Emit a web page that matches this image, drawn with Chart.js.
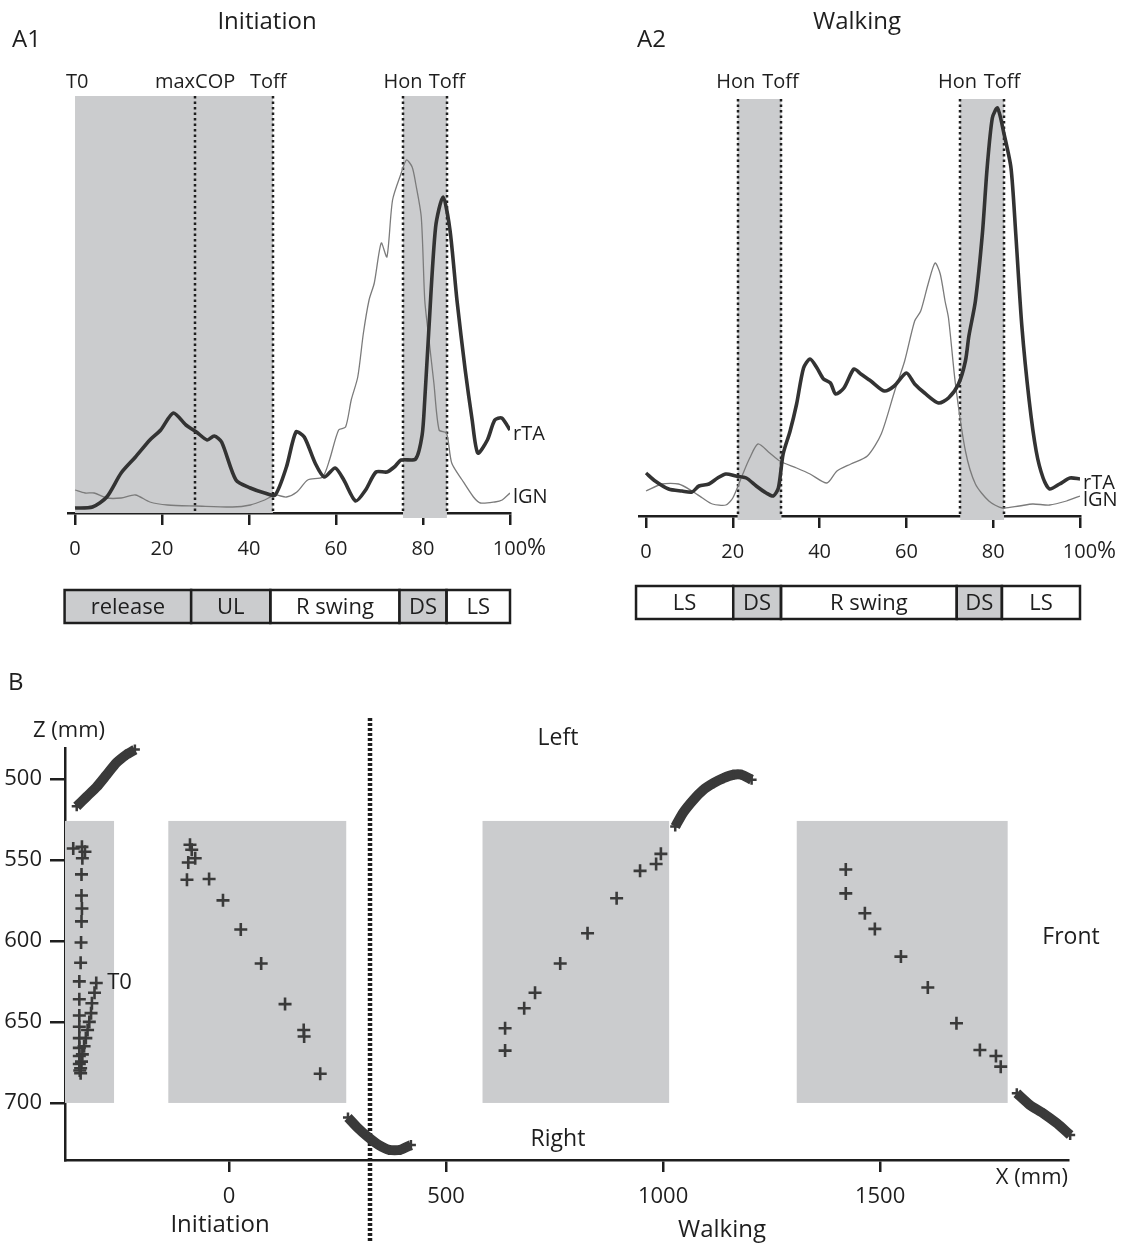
<!DOCTYPE html>
<html>
<head>
<meta charset="utf-8">
<title>Initiation / Walking</title>
<script src="https://cdn.jsdelivr.net/npm/chart.js@4.4.1/dist/chart.umd.min.js"></script>
<style>
  body { margin: 0; background: #fff; }
  #wrap { position: relative; width: 1127px; height: 1243px; overflow: hidden; }
  canvas { position: absolute; }
</style>
</head>
<body>
<div id="wrap">
  <canvas id="chartA1" width="563" height="640" style="left:0;top:0"></canvas>
  <canvas id="chartA2" width="564" height="640" style="left:563px;top:0"></canvas>
  <canvas id="chartB" width="1127" height="603" style="left:0;top:640px"></canvas>
</div>
<script>
// ---- A1 : initiation, % of cycle vs EMG (arbitrary units)
var a1_rTA_x = [0, 4, 7.3, 10.6, 13.9, 17.2, 19.7, 22.6, 25.5, 27.9, 30.4, 32, 33.7, 37, 40.3, 43.6, 46, 48.6, 50.8, 52.7, 55.2, 57.3, 59.8, 61.8, 64.5, 66.8, 69.2, 71.7, 73.4, 75, 78.3, 79.8, 80.4, 81.3, 82.9, 84.6, 86.2, 87.8, 89.7, 91.3, 92.6, 94.8, 96.5, 98.1, 100];
var a1_rTA_y = [5, 6, 16, 40, 56, 73, 83, 100, 88, 81, 73, 77, 71, 33, 25, 20, 18, 46, 81, 76, 50, 36, 45, 33, 12, 23, 41, 41, 46, 53, 54, 78, 113, 180, 286, 316, 283, 213, 143, 93, 60, 73, 93, 95, 83];
var a1_lGN_x = [0, 2.3, 4.4, 7.3, 10.6, 13.9, 17.2, 21.3, 27.9, 36.2, 40.3, 43.6, 46, 48.6, 51, 53.5, 56.9, 58.5, 60.6, 62.2, 63.5, 65, 66.3, 67.6, 68.8, 70.4, 71.7, 73, 75, 76.2, 77.5, 78.3, 79.6, 80.4, 81.2, 82.5, 83.7, 85.4, 86.6, 89, 91.6, 93.2, 96.5, 98.2, 100];
var a1_lGN_y = [23, 20, 20, 15, 15, 18, 11, 8, 7, 6, 8, 13, 18, 16, 21, 33, 36, 53, 83, 86, 113, 136, 180, 213, 230, 270, 256, 313, 340, 353, 346, 330, 296, 213, 180, 130, 83, 80, 50, 33, 16, 10, 11, 13, 20];
var a1_bands = [[0, 45.5], [75.4, 85.5]];
var a1_dotted = [27.6, 45.5, 75.4, 85.5];
var a1_eventNames = ['T0', 'maxCOP', 'Toff', 'Hon', 'Toff'];
var a1_eventPos = [0.5, 27.6, 44.4, 75.4, 85.5];
var a1_phaseNames = ['release', 'UL', 'R swing', 'DS', 'LS'];
var a1_phaseEdges = [-2.4, 26.7, 44.9, 74.6, 85.4, 100];
var a1_phaseShaded = [true, true, false, true, false];

// ---- A2 : walking
var a2_rTA_x = [0, 2.1, 5.2, 8.3, 10.6, 12.2, 14.5, 16.5, 18.4, 20.7, 23.1, 25.4, 27.7, 29.3, 30.5, 31.6, 33.2, 34.7, 36.3, 37.8, 39.4, 40.9, 42.5, 43.7, 45.6, 47.9, 49.5, 51.8, 54.9, 57.2, 60, 61.9, 64.2, 67.4, 69.7, 72, 73.6, 74.4, 75.9, 77.5, 78.6, 79.8, 81, 82.5, 84.1, 85.2, 86.6, 88.3, 89.9, 91.5, 93, 95.3, 97.7, 100];
var a2_rTA_y = [43, 35, 27, 25, 24, 30, 32, 38, 42, 40, 38, 30, 23, 20, 28, 62, 85, 112, 148, 157, 148, 137, 133, 122, 128, 147, 142, 135, 125, 130, 143, 132, 123, 113, 118, 132, 155, 180, 215, 282, 348, 398, 408, 382, 348, 282, 190, 115, 65, 38, 27, 32, 38, 37];
var a2_lGN_x = [0, 3.7, 7.5, 10.6, 13, 15.3, 18.4, 20, 22.3, 23.9, 25.8, 28.5, 30.8, 34.7, 37.8, 41.7, 44, 47.2, 51, 54.2, 57.3, 59.6, 61.9, 63.3, 65, 66.6, 67.8, 68.9, 69.7, 71.3, 73.6, 75.9, 79, 82.1, 86, 89.1, 93, 96.9, 100];
var a2_lGN_y = [25, 32, 32, 25, 18, 12, 11, 18, 42, 58, 72, 63, 55, 48, 42, 33, 45, 52, 60, 82, 125, 155, 195, 205, 232, 253, 242, 215, 198, 132, 65, 32, 15, 8, 10, 12, 11, 15, 20];
var a2_bands = [[21.1, 31.2], [72.4, 82.5]];
var a2_dotted = [21.1, 31.2, 72.4, 82.5];
var a2_eventNames = ['Hon', 'Toff', 'Hon', 'Toff'];
var a2_eventPos = [20.7, 31.0, 71.8, 82.0];
var a2_phaseNames = ['LS', 'DS', 'R swing', 'DS', 'LS'];
var a2_phaseEdges = [-2.3, 20.1, 31.1, 71.6, 82, 100];
var a2_phaseShaded = [false, true, false, true, false];

var pctTicks = [0, 20, 40, 60, 80, 100];

// ---- B : marker trajectory, X (mm) vs Z (mm)
var bTicksX = [0, 500, 1000, 1500];
var bTicksZ = [500, 550, 600, 650, 700];
var bSwing1X = [-351, -328, -305, -282, -259, -236, -217];
var bSwing1Z = [517, 511, 505, 497.5, 490, 485, 482];
var bStance1X = [-359, -339, -332, -338, -340, -340, -339, -340, -341, -342, -345, -345, -345, -345, -345, -345, -345, -345, -344];
var bStance1Z = [543, 542, 545, 549, 559, 572, 580, 588, 601, 613.5, 625, 636, 646, 653, 660, 666, 671, 676, 680];
var bT0X = [-306, -310, -316, -318, -322, -326, -330, -334, -338, -340, -342, -342];
var bT0Z = [626, 632, 638.5, 644.6, 650, 655, 660, 665, 670, 674.5, 678.6, 681.7];
var bInitX = [-90, -86, -78, -94, -97, -46, -14, 27, 74, 129, 172, 173, 210];
var bInitZ = [540.7, 543.8, 549, 551.6, 562.3, 561.8, 575, 593, 614, 639, 655, 659, 682];
var bSwing2X = [274, 295, 320, 345, 369, 394, 419];
var bSwing2Z = [709, 715, 721, 726, 729, 729, 726];
var bWalk1X = [636, 636, 680, 705, 763, 826, 893, 947, 984, 995];
var bWalk1Z = [667.7, 653.9, 641.6, 632, 614, 595.3, 573.7, 556.8, 552.6, 546.3];
var bSwing3X = [1028, 1046, 1070, 1092, 1116, 1139, 1162, 1181, 1204];
var bSwing3Z = [529.5, 521, 513, 507, 502.7, 499.6, 497.5, 497.5, 500.6];
var bWalk2X = [1421, 1421, 1465, 1488, 1548, 1610, 1676, 1730, 1767, 1778];
var bWalk2Z = [556, 570.7, 583, 592.6, 609.7, 628.8, 650.8, 667.3, 671, 677.6];
var bSwing4X = [1815, 1845, 1876, 1907, 1938];
var bSwing4Z = [694, 701.2, 706.4, 712.5, 719.8];
var bBoxX0 = [-378, -140, 584, 1308];
var bBoxX1 = [-265, 270, 1014, 1794];
var bBoxZ = [526, 700];
var bDivideX = 325;

var GRAY = '#cbccce';
var INK = '#1e1e1e';
var MARK = '#3a3a3a';
var FONT = "'Open Sans', 'Noto Sans', sans-serif";

Chart.defaults.font.family = FONT;
Chart.defaults.color = INK;

function pts(xs, ys) {
    return xs.map(function (v, i) { return { x: v, y: ys[i] }; });
}
function plain(v) { return String(v); }   // no thousands separator

// bands, dotted event lines, phase boxes, labels for A1 / A2
function panelAPlugin(o) {
    return {
        id: 'panelA',
        beforeDatasetsDraw: function (chart) {
            var ctx = chart.ctx, x = chart.scales.x, y = chart.scales.y, ca = chart.chartArea;
            var yt = y.getPixelForValue(417);
            ctx.save();
            ctx.fillStyle = GRAY;
            o.bands.forEach(function (b, i) {
                var x0 = x.getPixelForValue(b[0]), x1 = x.getPixelForValue(b[1]);
                ctx.fillRect(x0, yt, x1 - x0, ca.bottom + o.bandDrop[i] - yt);
            });
            ctx.strokeStyle = INK;
            ctx.lineWidth = 2.5;
            ctx.setLineDash([2.5, 3]);
            o.dotted.forEach(function (v) {
                var px = Math.round(x.getPixelForValue(v));
                ctx.beginPath();
                ctx.moveTo(px, yt);
                ctx.lineTo(px, ca.bottom);
                ctx.stroke();
            });
            ctx.restore();
        },
        afterDraw: function (chart) {
            var ctx = chart.ctx, x = chart.scales.x, y = chart.scales.y, ca = chart.chartArea;
            ctx.save();
            ctx.fillStyle = INK;
            ctx.textBaseline = 'middle';
            ctx.textAlign = 'center';
            ctx.font = '20px ' + FONT;
            o.eventNames.forEach(function (t, i) {
                ctx.fillText(t, x.getPixelForValue(o.eventPos[i]), 82);
            });
            // series names at the right end of each trace
            ctx.textAlign = 'left';
            chart.data.datasets.forEach(function (ds) {
                var last = ds.data[ds.data.length - 1];
                ctx.fillText(ds.label, x.getPixelForValue(last.x) + 3, y.getPixelForValue(last.y) + 4);
            });
            ctx.font = '23px ' + FONT;
            ctx.fillText('%', x.getPixelForValue(100) + 17, ca.bottom + 35);
            // phase box under the axis
            var bt = ca.bottom + o.boxOff, bh = 33;
            ctx.lineWidth = 2.5;
            ctx.strokeStyle = INK;
            ctx.font = '22px ' + FONT;
            ctx.textAlign = 'center';
            for (var i = 0; i < o.phaseNames.length; i++) {
                var x0 = x.getPixelForValue(o.phaseEdges[i]), x1 = x.getPixelForValue(o.phaseEdges[i + 1]);
                if (o.phaseShaded[i]) {
                    ctx.fillStyle = GRAY;
                    ctx.fillRect(x0, bt, x1 - x0, bh);
                }
                ctx.strokeRect(x0, bt, x1 - x0, bh);
                ctx.fillStyle = INK;
                ctx.fillText(o.phaseNames[i], (x0 + x1) / 2, bt + bh / 2 + 1);
            }
            ctx.font = '24px ' + FONT;
            ctx.fillText(o.title, o.titleX, 22);
            ctx.textAlign = 'left';
            ctx.fillText(o.letter, o.letterX, 40);
            ctx.restore();
        }
    };
}

function makePanelA(id, o) {
    return new Chart(document.getElementById(id), {
        type: 'line',
        data: {
            datasets: [
                { label: 'rTA', data: pts(o.rTAx, o.rTAy), borderColor: '#333333', borderWidth: 3.6, tension: 0.25 },
                { label: 'lGN', data: pts(o.lGNx, o.lGNy), borderColor: '#7b7b7b', borderWidth: 1.3, tension: 0.25 }
            ]
        },
        options: {
            responsive: false,
            animation: false,
            devicePixelRatio: 1,
            elements: { point: { radius: 0 } },
            layout: { autoPadding: false, padding: o.padding },
            plugins: { legend: { display: false }, tooltip: { enabled: false } },
            scales: {
                x: {
                    type: 'linear', min: -1.5, max: 100,
                    afterBuildTicks: function (s) { s.ticks = pctTicks.map(function (v) { return { value: v }; }); },
                    afterFit: function (s) { s.height = 50; },
                    border: { display: true, color: INK, width: 2.5 },
                    grid: { drawOnChartArea: false, drawTicks: true, tickLength: 12, color: INK, lineWidth: 2.5 },
                    ticks: { padding: 12, color: INK, font: { size: 20 }, maxRotation: 0, autoSkip: false, callback: plain }
                },
                y: { display: false, min: 0, max: 420 }
            }
        },
        plugins: [panelAPlugin(o)]
    });
}

makePanelA('chartA1', {
    rTAx: a1_rTA_x, rTAy: a1_rTA_y, lGNx: a1_lGN_x, lGNy: a1_lGN_y,
    bands: a1_bands, bandDrop: [0, 5], dotted: a1_dotted,
    eventNames: a1_eventNames, eventPos: a1_eventPos,
    phaseNames: a1_phaseNames, phaseEdges: a1_phaseEdges, phaseShaded: a1_phaseShaded,
    boxOff: 77, title: 'Initiation', titleX: 267, letter: 'A1', letterX: 12,
    padding: { left: 68.5, right: 53, top: 93, bottom: 77 }
});

makePanelA('chartA2', {
    rTAx: a2_rTA_x, rTAy: a2_rTA_y, lGNx: a2_lGN_x, lGNy: a2_lGN_y,
    bands: a2_bands, bandDrop: [4, 4], dotted: a2_dotted,
    eventNames: a2_eventNames, eventPos: a2_eventPos,
    phaseNames: a2_phaseNames, phaseEdges: a2_phaseEdges, phaseShaded: a2_phaseShaded,
    boxOff: 70, title: 'Walking', titleX: 294, letter: 'A2', letterX: 74,
    padding: { left: 76.5, right: 47, top: 96, bottom: 74 }
});

// ---- B
function crosses(xs, zs) {
    return { data: pts(xs, zs), showLine: false, pointStyle: 'cross', pointRadius: 6.5,
             pointBorderWidth: 2.6, pointBorderColor: MARK, clip: false };
}
function swing(xs, zs) {
    return { data: pts(xs, zs), showLine: true, borderColor: MARK, borderWidth: 10, tension: 0.2,
             pointStyle: 'cross', pointRadius: 5, pointBorderWidth: 2.5, pointBorderColor: MARK, clip: false };
}

var panelBPlugin = {
    id: 'panelB',
    beforeDatasetsDraw: function (chart) {
        var ctx = chart.ctx, x = chart.scales.x, y = chart.scales.y;
        ctx.save();
        ctx.fillStyle = GRAY;
        var yt = y.getPixelForValue(bBoxZ[0]), yb = y.getPixelForValue(bBoxZ[1]);
        for (var i = 0; i < bBoxX0.length; i++) {
            var x0 = x.getPixelForValue(bBoxX0[i]), x1 = x.getPixelForValue(bBoxX1[i]);
            ctx.fillRect(x0, yt, x1 - x0, yb - yt);
        }
        var px = Math.round(x.getPixelForValue(bDivideX));
        ctx.strokeStyle = INK;
        ctx.lineWidth = 4.5;
        ctx.setLineDash([3, 2]);
        ctx.beginPath();
        ctx.moveTo(px, 78);
        ctx.lineTo(px, chart.height);
        ctx.stroke();
        ctx.restore();
    },
    afterDraw: function (chart) {
        var ctx = chart.ctx, x = chart.scales.x, y = chart.scales.y;
        ctx.save();
        ctx.fillStyle = INK;
        ctx.textBaseline = 'middle';
        ctx.font = '24px ' + FONT;
        ctx.textAlign = 'left';
        ctx.fillText('B', 8, 43);
        ctx.font = '22px ' + FONT;
        ctx.fillText('Z (mm)', 33, 91);
        ctx.fillText('T0', x.getPixelForValue(bT0X[0]) + 11, y.getPixelForValue(bT0Z[0]));
        ctx.textAlign = 'right';
        ctx.fillText('X (mm)', chart.chartArea.right, 538);
        ctx.textAlign = 'center';
        ctx.font = '23px ' + FONT;
        ctx.fillText('Left', 558, 98);
        ctx.fillText('Right', 558, 499);
        ctx.fillText('Front', 1071, 297);
        ctx.font = '24px ' + FONT;
        ctx.fillText('Initiation', 220, 585);
        ctx.fillText('Walking', 722, 590);
        ctx.restore();
    }
};

new Chart(document.getElementById('chartB'), {
    type: 'scatter',
    data: {
        datasets: [
            swing(bSwing1X, bSwing1Z),
            crosses(bStance1X, bStance1Z),
            crosses(bT0X, bT0Z),
            crosses(bInitX, bInitZ),
            swing(bSwing2X, bSwing2Z),
            crosses(bWalk1X, bWalk1Z),
            swing(bSwing3X, bSwing3Z),
            crosses(bWalk2X, bWalk2Z),
            swing(bSwing4X, bSwing4Z)
        ]
    },
    options: {
        responsive: false,
        animation: false,
        devicePixelRatio: 1,
        layout: { autoPadding: false, padding: { left: 0, right: 59, top: 108, bottom: 33 } },
        plugins: { legend: { display: false }, tooltip: { enabled: false } },
        scales: {
            x: {
                type: 'linear', min: -378, max: 1933,
                afterBuildTicks: function (s) { s.ticks = bTicksX.map(function (v) { return { value: v }; }); },
                afterFit: function (s) { s.height = 50; },
                border: { display: true, color: INK, width: 2.5 },
                grid: { drawOnChartArea: false, drawTicks: true, tickLength: 12, color: INK, lineWidth: 2.5 },
                ticks: { padding: 12, color: INK, font: { size: 22 }, maxRotation: 0, autoSkip: false, callback: plain }
            },
            y: {
                type: 'linear', reverse: true, min: 481, max: 735.2,
                afterBuildTicks: function (s) { s.ticks = bTicksZ.map(function (v) { return { value: v }; }); },
                afterFit: function (s) { s.width = 65; },
                border: { display: true, color: INK, width: 2.5 },
                grid: { drawOnChartArea: false, drawTicks: true, tickLength: 15, color: INK, lineWidth: 2.5 },
                ticks: { padding: 8, color: INK, font: { size: 22 }, autoSkip: false, callback: plain }
            }
        }
    },
    plugins: [panelBPlugin]
});
</script>
</body>
</html>
